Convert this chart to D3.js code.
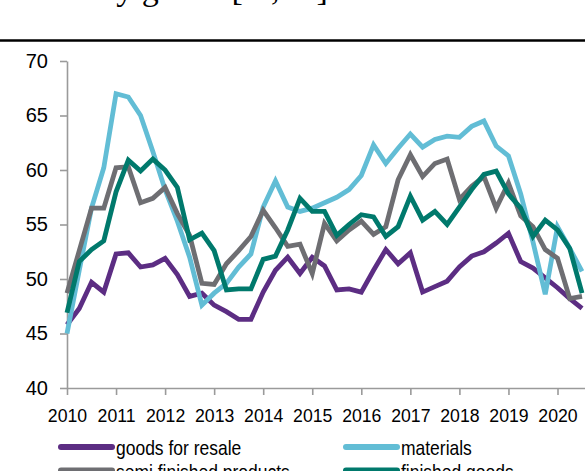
<!DOCTYPE html>
<html>
<head>
<meta charset="utf-8">
<script src="https://cdn.jsdelivr.net/npm/d3@7"></script>
<style>
body { margin: 0; background: #fff; }
svg { display: block; font-family: "Liberation Sans", Arial, sans-serif; }
.axis path, .axis line { stroke: #9a9a9a; stroke-width: 1.6; }
.axis text { fill: #000; font-family: "Liberation Sans", Arial, sans-serif; }
.axis-y text { font-size: 20px; }
.axis-x text { font-size: 19px; transform-box: fill-box; transform-origin: center; transform: scaleX(0.93); }
.series { fill: none; stroke-width: 4.8; }
.legend text { fill: #000; font-size: 19px; }
.title { font-family: "Liberation Serif", "Times New Roman", serif; font-size: 34px; fill: #000; }
</style>
</head>
<body>
<div id="chart"></div>
<script>
// quarterly values, 2010 Q1 .. 2020 Q3
var goodsForResale = [45.8, 47.3, 49.7, 48.8, 52.3, 52.4, 51.1, 51.3, 51.9, 50.4, 48.4, 48.7,
    47.6, 47.0, 46.3, 46.3, 48.8, 50.8, 52.0, 50.5, 52.0, 51.2, 49.0, 49.1, 48.8, 50.8, 52.7, 51.4,
    52.4, 48.8, 49.3, 49.8, 51.1, 52.1, 52.5, 53.3, 54.2, 51.6, 51.0, 50.1, 49.2, 48.2, 47.3];
var materials = [45.0, 50.8, 56.5, 60.2, 67.0, 66.7, 65.0, 61.7, 58.2, 55.3, 52.0, 47.6,
    48.7, 49.6, 51.1, 52.3, 56.6, 59.0, 56.6, 56.2, 56.5, 57.0, 57.5, 58.2, 59.5, 62.3, 60.6, 62.0,
    63.3, 62.1, 62.8, 63.1, 63.0, 64.0, 64.5, 62.2, 61.3, 57.8, 53.4, 48.6, 54.8, 52.8, 50.7];
var semiFinished = [48.7, 52.6, 56.5, 56.5, 60.2, 60.3, 57.0, 57.4, 58.4, 56.0, 54.0, 49.6,
    49.5, 51.4, 52.6, 53.9, 56.3, 54.7, 53.0, 53.2, 50.5, 55.1, 53.5, 54.5, 55.3, 54.1, 54.8, 59.1,
    61.4, 59.4, 60.6, 61.0, 57.3, 58.5, 59.4, 56.5, 58.8, 55.8, 54.8, 52.7, 51.9, 48.2, 48.4];
var finishedGoods = [46.9, 51.6, 52.7, 53.5, 58.0, 60.9, 59.9, 61.0, 60.0, 58.4, 53.6, 54.2,
    52.6, 49.0, 49.1, 49.1, 51.8, 52.1, 54.5, 57.4, 56.2, 56.2, 54.0, 55.0, 55.9, 55.7, 53.9, 54.8,
    57.6, 55.4, 56.2, 55.0, 56.6, 58.2, 59.6, 59.9, 57.8, 56.5, 53.9, 55.4, 54.5, 52.8, 48.7];

var yearTicks = [2010, 2011, 2012, 2013, 2014, 2015, 2016, 2017, 2018, 2019, 2020];
var valueTicks = [40, 45, 50, 55, 60, 65, 70];
var seriesNames = ['goods for resale', 'materials', 'semi finished products', 'finished goods'];
var seriesColors = ['#5c2d83', '#62bdd5', '#6e6e72', '#00796c'];

var W = 585, H = 471;
var margin = {t: 61, l: 67};
var plotH = 327;

var svg = d3.select('#chart')
    .append('svg')
    .attr('width', W)
    .attr('height', H);

// title above the chart, cut off by the top edge, and its rule
svg.append('text')
    .attr('class', 'title')
    .attr('x', 0)
    .attr('y', 0)
    .text('Stocks by goods [%, sa]');

svg.append('line')
    .attr('x1', 0).attr('x2', W)
    .attr('y1', 40.5).attr('y2', 40.5)
    .attr('stroke', '#000')
    .attr('stroke-width', 2.5);

var scaleX = d3.scaleLinear().domain([2010, 2021]).range([margin.l, margin.l + 11 * 49.05]);
var scaleY = d3.scaleLinear().domain([40, 70]).range([margin.t + plotH, margin.t]);

var axisX = d3.axisBottom(scaleX).tickValues(yearTicks).tickFormat(d3.format('d'))
    .tickSizeInner(7).tickSizeOuter(0).tickPadding(14);
var axisY = d3.axisLeft(scaleY).tickValues(valueTicks)
    .tickSizeInner(7).tickSizeOuter(0).tickPadding(12);

svg.append('g')
    .attr('class', 'axis axis-x')
    .attr('transform', 'translate(0,' + (margin.t + plotH) + ')')
    .call(axisX);

svg.append('g')
    .attr('class', 'axis axis-y')
    .attr('transform', 'translate(' + margin.l + ',0)')
    .call(axisY);

var line = d3.line()
    .x(function(d, i) { return scaleX(2010 + i / 4); })
    .y(function(d) { return scaleY(d); });

var allSeries = [goodsForResale, materials, semiFinished, finishedGoods];

svg.append('g').attr('class', 'lines')
    .selectAll('path')
    .data(allSeries)
    .enter()
    .append('path')
    .attr('class', 'series')
    .attr('stroke', function(d, i) { return seriesColors[i]; })
    .attr('d', line);

// legend, two columns (second row is cut by the bottom edge)
var legendPos = [
    {x: 58, y: 447}, {x: 343, y: 447},
    {x: 58, y: 470.5}, {x: 343, y: 470.5}
];

var legend = svg.append('g').attr('class', 'legend')
    .selectAll('g')
    .data(seriesNames)
    .enter()
    .append('g')
    .attr('transform', function(d, i) { return 'translate(' + legendPos[i].x + ',' + legendPos[i].y + ')'; });

legend.append('line')
    .attr('x1', 3)
    .attr('x2', 54)
    .attr('y1', 0).attr('y2', 0)
    .attr('stroke', function(d, i) { return seriesColors[i]; })
    .attr('stroke-width', 6)
    .attr('stroke-linecap', 'round');

legend.append('text')
    .attr('transform', 'translate(58,8) scale(0.92,1.1)')
    .text(function(d) { return d; });
</script>
</body>
</html>
